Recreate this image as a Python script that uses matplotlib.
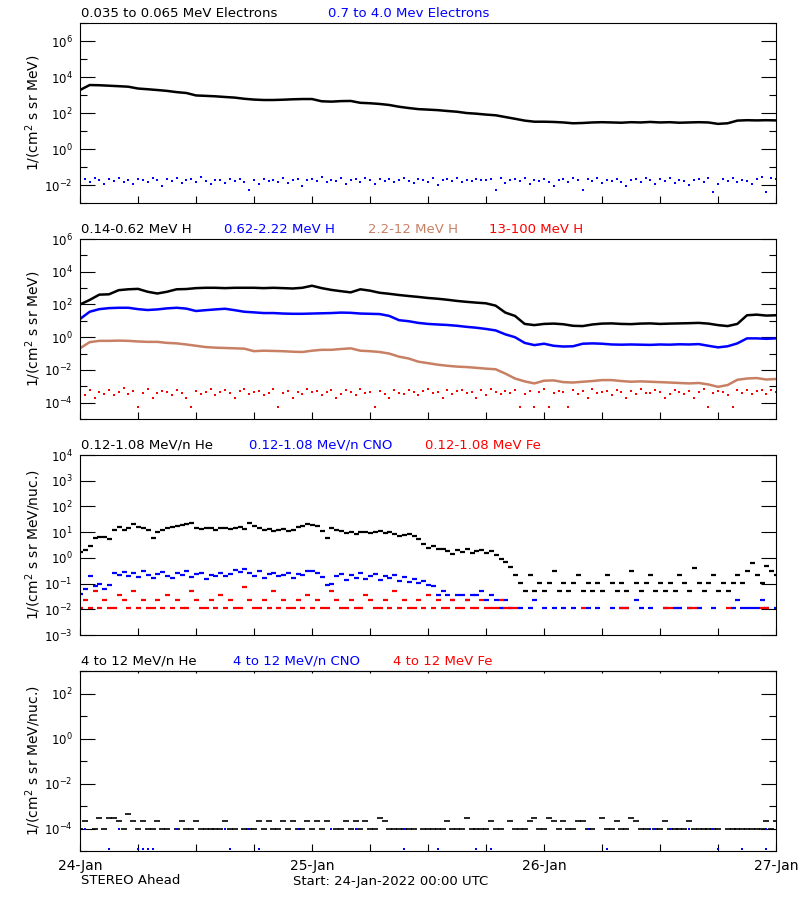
import numpy as np
import matplotlib
matplotlib.use("Agg")
import matplotlib.pyplot as plt
from matplotlib.ticker import FixedLocator, FixedFormatter, NullFormatter

nan = np.nan

BLACK = "#000000"
BLUE = "#0000ff"
BROWN = "#c88064"
RED = "#ff0000"

# time axis: hours after 24-Jan-2022 00:00 UTC
HOURS = np.arange(73)
HALF_HOURS = np.arange(145) * 0.5

# ---- panel 1: electrons -------------------------------------------------
e_low = [1900, 3600, 3500, 3300, 3100, 2900, 2300, 2100, 1900, 1700,
         1450, 1300, 950, 900, 850, 780, 720, 620, 560, 530,
         530, 550, 580, 600, 600, 450, 430, 460, 470, 370,
         350, 320, 280, 224, 190, 165, 155, 145, 130, 118,
         100, 92, 82, 75, 60, 48, 38, 33, 33, 32,
         30, 27, 28, 30, 31, 30, 29, 31, 30, 32,
         30, 31, 29, 30, 31, 30, 25, 27, 38, 40,
         39, 40, 39]
# 0.7-4.0 MeV electrons, units of 1e-2
e_high = [1.6, 2.1, 1.4, 2.4, 1.9, 1.2, 2.2, 1.7, 2.6, 1.5,
          2.0, 1.1, 2.3, 1.8, 1.4, 2.5, 1.9, 0.9, 2.1, 1.6,
          2.4, 1.3, 1.8, 2.2, 1.5, 2.7, 1.7, 1.2, 2.0, 1.9,
          1.3, 2.3, 1.6, 2.1, 1.4, 0.5, 1.8, 1.1, 2.2, 1.7,
          2.0, 1.5, 2.6, 1.3, 1.9, 2.3, 0.9, 1.8, 2.1, 1.6,
          2.8, 1.4, 2.0, 1.7, 2.4, 1.2, 1.9, 2.2, 1.5, 2.5,
          1.8, 1.1, 2.1, 1.6, 2.3, 1.4, 2.0, 2.6, 1.7, 1.3,
          2.2, 1.9, 1.5, 2.4, 1.0, 1.8, 2.1, 1.6, 2.5, 1.4,
          2.0, 1.7, 2.3, 1.8, 1.9, 2.2, 0.5, 2.6, 1.3, 1.8,
          2.1, 1.6, 2.4, 1.2, 2.0, 1.7, 2.3, 1.5, 0.9, 1.9,
          2.2, 1.4, 2.5, 1.8, 0.5, 2.1, 1.6, 2.4, 1.3, 2.0,
          1.7, 2.3, 1.5, 0.9, 1.9, 2.2, 1.4, 2.6, 1.8, 1.2,
          2.1, 1.6, 2.4, 1.3, 2.0, 1.7, 1.0, 1.9, 2.2, 1.5,
          2.5, 0.4, 1.1, 2.1, 1.6, 2.4, 1.4, 2.0, 1.7, 1.2,
          2.3, 2.8, 0.4, 2.6, 2.2]

# ---- panel 2: protons ---------------------------------------------------
h_014 = [100, 190, 400, 420, 750, 850, 900, 600, 470, 600,
         850, 880, 1000, 1050, 1050, 1000, 1050, 1050, 1050, 1000,
         1050, 1000, 950, 1050, 1400, 1000, 780, 650, 550, 850,
         700, 520, 450, 380, 330, 290, 250, 225, 195, 165,
         145, 130, 118, 85, 32, 20, 6.5, 5.5, 6.5, 6.8,
         6.2, 5.0, 4.8, 6.0, 6.8, 7.0, 6.5, 6.3, 6.8, 7.0,
         6.5, 6.8, 7.0, 7.2, 7.5, 6.8, 5.5, 4.8, 6.5, 22,
         24, 21, 22]
h_062 = [13, 36, 52, 60, 63, 63, 52, 46, 50, 58,
         63, 56, 40, 45, 50, 55, 45, 36, 33, 30,
         30, 28, 27, 27, 28, 29, 30, 32, 31, 28,
         27, 26, 20, 11, 9.5, 7.5, 6.5, 6.0, 5.6, 5.0,
         4.3, 3.8, 3.2, 2.6, 1.5, 1.0, 0.45, 0.33, 0.4, 0.3,
         0.27, 0.28, 0.4, 0.42, 0.4, 0.36, 0.35, 0.36, 0.35, 0.34,
         0.36, 0.35, 0.37, 0.36, 0.38, 0.3, 0.24, 0.28, 0.42, 0.85,
         0.85, 0.8, 0.85]
h_22 = [0.21, 0.5, 0.6, 0.6, 0.62, 0.6, 0.55, 0.52, 0.52, 0.45,
        0.42, 0.36, 0.3, 0.25, 0.23, 0.22, 0.21, 0.2, 0.14, 0.15,
        0.145, 0.14, 0.13, 0.125, 0.15, 0.17, 0.17, 0.19, 0.21, 0.15,
        0.14, 0.125, 0.1, 0.065, 0.05, 0.032, 0.026, 0.021, 0.018, 0.016,
        0.015, 0.0135, 0.012, 0.011, 0.006, 0.003, 0.002, 0.0015, 0.0022, 0.0023,
        0.0018, 0.0017, 0.0019, 0.0021, 0.0024, 0.0024, 0.0021, 0.0019, 0.002, 0.0019,
        0.0018, 0.0017, 0.0016, 0.0015, 0.0016, 0.0013, 0.00093, 0.0012, 0.0025, 0.003,
        0.0032, 0.0026, 0.0028]
# 13-100 MeV H, units of 1e-4
h_13 = [4.2, 3.1, 5.6, 1.8, 4.8, 3.6, 6.2, 2.9, 4.4, 7.5,
        3.3, 5.1, 0.56, 4.0, 6.8, 1.8, 3.8, 5.4, 4.6, 3.0,
        6.0, 4.1, 1.8, 0.56, 5.2, 3.4, 4.7, 7.0, 2.9, 4.3,
        5.8, 3.7, 1.8, 4.9, 6.4, 3.2, 4.5, 5.5, 2.8, 4.0,
        6.6, 0.56, 3.9, 5.0, 1.8, 4.6, 3.3, 7.2, 4.2, 5.3,
        3.1, 4.8, 6.1, 1.8, 3.6, 5.7, 4.4, 2.9, 6.9, 3.8,
        4.7, 0.56, 5.4, 3.2, 1.8, 6.3, 4.1, 3.5, 5.9, 4.5,
        2.9, 5.0, 6.7, 3.7, 4.3, 1.8, 5.6, 3.3, 4.9, 6.0,
        3.9, 4.6, 1.8, 5.8, 3.1, 7.0, 4.2, 3.6, 5.3, 4.0,
        6.2, 0.56, 3.4, 5.1, 0.56, 4.7, 6.5, 0.56, 3.8, 5.5,
        4.4, 0.56, 5.9, 3.2, 4.9, 1.8, 6.4, 3.7, 4.5, 5.2,
        3.0, 6.1, 4.3, 1.8, 5.0, 3.5, 6.8, 4.1, 3.9, 5.7,
        4.6, 1.8, 3.3, 6.0, 4.8, 3.6, 5.4, 1.8, 4.2, 6.6,
        0.56, 3.8, 5.1, 4.4, 3.1, 0.56, 5.8, 4.0, 6.3, 3.5,
        4.9, 5.6, 3.4, 6.1, 4.5]

# ---- panel 3: 0.12-1.08 MeV/n heavy ions (half-hourly) ------------------
he_low = [1.7, 2.0, 2.8, 5.9, 6.6, 6.3, 5.4, 12, 16, 12,
          14, 20, 16, 14, 12.5, 5.9, 10, 12, 14, 16,
          17, 19, 20, 22, 14, 13, 15, 14, 12, 14,
          15, 13, 14, 16, 13, 22, 18, 14, 12, 13,
          11, 12, 13, 11, 12, 16, 18, 20, 19, 17,
          11, 5.9, 14, 12, 11, 9.5, 10, 8.5, 9.8, 10.5,
          9, 10, 11, 9.5, 10, 8.8, 7.0, 8.0, 8.5, 7.0,
          5.6, 3.5, 2.5, 2.8, 2.3, 2.2, 1.8, 1.4, 2.0, 1.7,
          2.3, 1.5, 1.8, 2.1, 1.6, 1.9, 1.3, 0.87, 0.7, 0.45,
          0.21, 0.107, 0.052, 0.21, 0.052, 0.107, 0.052, 0.107, 0.3, 0.052,
          0.107, 0.052, 0.107, 0.21, 0.052, 0.107, 0.052, 0.107, 0.052, 0.21,
          0.107, 0.052, 0.107, 0.052, 0.3, 0.107, 0.052, 0.107, 0.21, 0.052,
          0.107, 0.052, 0.107, 0.052, 0.21, 0.107, 0.052, 0.4, 0.107, 0.052,
          0.107, 0.21, 0.052, 0.107, 0.052, 0.107, 0.21, 0.107, 0.3, 0.65,
          0.21, 0.107, 0.48, 0.3, 0.21]
cno_low = [0.04, 0.06, 0.19, 0.08, 0.1, 0.06, 0.09, 0.25, 0.22, 0.28,
           0.2, 0.26, 0.18, 0.3, 0.22, 0.16, 0.24, 0.28, 0.2, 0.17,
           0.25, 0.21, 0.3, 0.18, 0.23, 0.27, 0.15, 0.22, 0.19, 0.26,
           0.2, 0.24, 0.33, 0.28, 0.36, 0.25, 0.2, 0.3, 0.17, 0.23,
           0.27, 0.19, 0.22, 0.26, 0.16, 0.24, 0.21, 0.32, 0.3, 0.25,
           0.18, 0.09, 0.1, 0.2, 0.24, 0.14, 0.21, 0.17, 0.25, 0.15,
           0.19, 0.23, 0.14, 0.2, 0.16, 0.22, 0.13, 0.18, 0.12, 0.15,
           0.11, 0.13, 0.09, 0.08, 0.035, 0.05, 0.035, 0.023, 0.035, 0.035,
           0.023, 0.035, 0.035, 0.05, 0.023, 0.035, 0.023, 0.0115, 0.023, 0.0115,
           nan, 0.0115, nan, 0.0115, 0.023, nan, 0.0115, nan, 0.0115, nan,
           0.0115, nan, 0.0115, nan, nan, 0.0115, nan, 0.0115, nan, nan,
           0.0115, nan, 0.0115, 0.0115, nan, 0.023, 0.0115, nan, 0.0115, nan,
           nan, 0.0115, nan, 0.0115, 0.0115, nan, 0.0115, nan, 0.0115, nan,
           nan, 0.0115, nan, nan, nan, 0.0115, 0.023, 0.0115, 0.0115, 0.0115,
           0.0115, 0.023, 0.0115, nan, 0.0115]
fe_low = [0.0115, 0.023, 0.0115, 0.05, 0.0115, 0.023, 0.0115, 0.0115, 0.035, 0.023,
          0.0115, 0.05, 0.0115, 0.023, 0.0115, 0.0115, 0.023, 0.0115, 0.035, 0.0115,
          0.023, 0.0115, 0.0115, 0.05, 0.023, 0.0115, 0.0115, 0.023, 0.0115, 0.035,
          0.0115, 0.023, 0.0115, 0.0115, 0.075, 0.023, 0.0115, 0.0115, 0.023, 0.0115,
          0.05, 0.0115, 0.023, 0.0115, 0.0115, 0.023, 0.0115, 0.035, 0.0115, 0.023,
          0.0115, 0.0115, 0.05, 0.023, 0.0115, 0.0115, 0.023, 0.0115, 0.0115, 0.035,
          0.023, 0.0115, 0.0115, 0.023, 0.0115, 0.05, 0.0115, 0.023, 0.0115, 0.0115,
          0.023, 0.0115, 0.035, 0.0115, 0.023, 0.0115, 0.0115, 0.023, 0.0115, 0.0115,
          0.023, 0.0115, 0.0115, 0.023, 0.0115, 0.0115, 0.0115, 0.023, 0.0115, 0.0115,
          0.0115, nan, nan, nan, nan, nan, nan, nan, nan, nan,
          nan, nan, nan, nan, 0.0115, nan, nan, nan, nan, nan,
          nan, nan, 0.0115, 0.0115, nan, nan, nan, nan, nan, nan,
          nan, 0.0115, 0.0115, nan, nan, nan, 0.0115, 0.0115, nan, nan,
          nan, nan, nan, nan, 0.0115, nan, nan, nan, nan, nan,
          nan, 0.0115, 0.0115, nan, nan]

# ---- panel 4: 4-12 MeV/n heavy ions, units of 1e-4 ----------------------
he_high = [1.0, 2.1, nan, 1.0, 3.0, 1.0, 3.0, 3.0, 2.1, 1.0,
           4.3, 2.1, 1.0, 2.1, 1.0, 1.0, 2.1, 1.0, 1.0, nan,
           1.0, 2.1, 1.0, 1.0, 2.1, 1.0, 1.0, 1.0, 1.0, 1.0,
           2.1, 1.0, 1.0, nan, 1.0, 1.0, 1.0, 2.1, 1.0, 2.1,
           1.0, 1.0, 2.1, 1.0, 2.1, 1.0, 1.0, 2.1, 1.0, 2.1,
           1.0, 2.1, nan, 1.0, 1.0, 2.1, 1.0, 2.1, 1.0, 2.1,
           1.0, 1.0, 3.0, 2.1, 1.0, 1.0, 1.0, 1.0, 1.0, 1.0,
           nan, 1.0, 1.0, 1.0, 1.0, 1.0, 2.1, 1.0, 1.0, 1.0,
           3.0, 1.0, 1.0, 1.0, 1.0, 2.1, 1.0, 1.0, nan, 2.1,
           1.0, 1.0, 1.0, 2.1, 3.0, 1.0, 1.0, 3.0, 2.1, 1.0,
           2.1, 1.0, 1.0, 2.1, 2.1, 1.0, 1.0, nan, 3.0, 1.0,
           1.0, 2.1, 1.0, 1.0, 3.0, 2.1, 1.0, 1.0, nan, 1.0,
           1.0, 2.1, 1.0, 1.0, 1.0, 1.0, 2.1, 1.0, 1.0, 1.0,
           1.0, 1.0, 1.0, nan, 1.0, 1.0, 1.0, 1.0, 1.0, 1.0,
           1.0, 1.0, 2.1, 1.0, 2.1]
cno_high_hours = [0.5, 3, 4, 6, 6.5, 7, 7.5, 10, 15, 15.5,
                  17.5, 18.5, 22.5, 26, 28.5, 33.5, 33.5, 37, 41, 42.5,
                  52.5, 54.5, 59, 59.5, 61, 63, 65.5, 66, 68.5, 71, 71]
cno_high = [1.0, 0.125, 1.0, 0.125, 0.125, 0.125, 0.125, 1.0, 1.0, 0.125,
            1.0, 0.125, 1.0, 1.0, 1.0, 1.0, 0.125, 0.125, 0.125, 0.125,
            1.0, 0.125, 1.0, 1.0, 1.0, 1.0, 1.0, 0.125, 0.125, 1.0, 0.125]

DAY_LABELS = ["24-Jan", "25-Jan", "26-Jan", "27-Jan"]


def dots(ax, x, y, color, ms=2.1):
    ax.plot(x, y, ls="none", marker="s", ms=ms, mew=0, color=color)


def dashes(ax, x, y, color, ms=3.6, mew=1.6):
    ax.plot(x, y, ls="none", marker="_", ms=ms, mew=mew, color=color)


def style(ax, lo, hi, major, minor, ylabel):
    ax.set_yscale("log")
    ax.set_ylim(10.0 ** lo, 10.0 ** hi)
    ax.set_xlim(0, 72)
    ax.yaxis.set_major_locator(FixedLocator([10.0 ** e for e in major]))
    ax.yaxis.set_major_formatter(FixedFormatter([r"$10^{%d}$" % e for e in major]))
    ax.yaxis.set_minor_locator(FixedLocator([10.0 ** e for e in minor]))
    ax.yaxis.set_minor_formatter(NullFormatter())
    ax.tick_params(axis="y", which="both", direction="in", left=True, right=True,
                   width=0.8, labelsize=8.5, pad=5.5)
    ax.tick_params(axis="y", which="major", length=10.8)
    ax.tick_params(axis="y", which="minor", length=5.2)
    ax.xaxis.set_major_locator(FixedLocator(range(0, 73, 6)))
    ax.xaxis.set_minor_locator(FixedLocator([]))
    ax.tick_params(axis="x", direction="in", length=5, width=0.8, top=False,
                   labelbottom=False, labelsize=10, pad=5.5)
    for spine in ax.spines.values():
        spine.set_linewidth(0.8)
    ax.text(-0.0675, 0.5, ylabel, transform=ax.transAxes, rotation=90,
            ha="center", va="center", fontsize=10)


def titles(ax, items):
    for dx, text, color in items:
        ax.annotate(text, xy=(0, 1), xycoords="axes fraction", xytext=(dx, 10),
                    textcoords="offset pixels", ha="left", va="center",
                    fontsize=9.5, color=color)


fig = plt.figure(figsize=(8, 9), dpi=100, facecolor="white")
ax1 = fig.add_axes([0.1, 0.7744, 0.87, 0.2])
ax2 = fig.add_axes([0.1, 0.5344, 0.87, 0.2])
ax3 = fig.add_axes([0.1, 0.2944, 0.87, 0.2])
ax4 = fig.add_axes([0.1, 0.0544, 0.87, 0.2])

unit = r"1/(cm$^2$ s sr MeV)"
unit_n = r"1/(cm$^2$ s sr MeV/nuc.)"

# panel 1
ax1.plot(HOURS, e_low, color=BLACK, lw=1.8)
dots(ax1, HALF_HOURS, np.array(e_high) * 1e-2, BLUE)
style(ax1, -3, 7, [-2, 0, 2, 4, 6], [-3, -1, 1, 3, 5, 7], unit)
titles(ax1, [(1, "0.035 to 0.065 MeV Electrons", BLACK),
             (248, "0.7 to 4.0 Mev Electrons", BLUE)])

# panel 2
ax2.plot(HOURS, h_014, color=BLACK, lw=1.8)
ax2.plot(HOURS, h_062, color=BLUE, lw=1.8)
ax2.plot(HOURS, h_22, color=BROWN, lw=1.8)
dots(ax2, HALF_HOURS, np.array(h_13) * 1e-4, RED)
style(ax2, -5, 6, [-4, -2, 0, 2, 4, 6], [-5, -3, -1, 1, 3, 5], unit)
titles(ax2, [(1, "0.14-0.62 MeV H", BLACK),
             (144, "0.62-2.22 MeV H", BLUE),
             (288, "2.2-12 MeV H", BROWN),
             (409, "13-100 MeV H", RED)])

# panel 3
dashes(ax3, HALF_HOURS, he_low, BLACK)
dashes(ax3, HALF_HOURS, cno_low, BLUE)
dashes(ax3, HALF_HOURS, fe_low, RED)
style(ax3, -3, 4, [-3, -2, -1, 0, 1, 2, 3, 4], [], unit_n)
titles(ax3, [(1, "0.12-1.08 MeV/n He", BLACK),
             (169, "0.12-1.08 MeV/n CNO", BLUE),
             (345, "0.12-1.08 MeV Fe", RED)])

# panel 4
dashes(ax4, HALF_HOURS, np.array(he_high) * 1e-4, BLACK, ms=5, mew=1.2)
dots(ax4, cno_high_hours, np.array(cno_high) * 1e-4, BLUE, ms=1.6)
style(ax4, -5, 3, [-4, -2, 0, 2], [-5, -3, -1, 1, 3], unit_n)
titles(ax4, [(1, "4 to 12 MeV/n He", BLACK),
             (153, "4 to 12 MeV/n CNO", BLUE),
             (313, "4 to 12 MeV Fe", RED)])
ax4.tick_params(axis="x", labelbottom=True)
ax4.set_xticklabels([DAY_LABELS[i // 24] if i % 24 == 0 else "" for i in range(0, 73, 6)])
top = ax4.secondary_xaxis("top")
top.set_xticks(range(0, 73, 6))
top.tick_params(direction="in", length=1.5, width=0.8, labeltop=False)

fig.text(81 / 800, 1 - 881 / 900, "STEREO Ahead", ha="left", va="center", fontsize=9.5)
fig.text(293 / 800, 1 - 881 / 900, "Start: 24-Jan-2022 00:00 UTC",
         ha="left", va="center", fontsize=9.5)

fig.savefig("out.png", dpi=100)
